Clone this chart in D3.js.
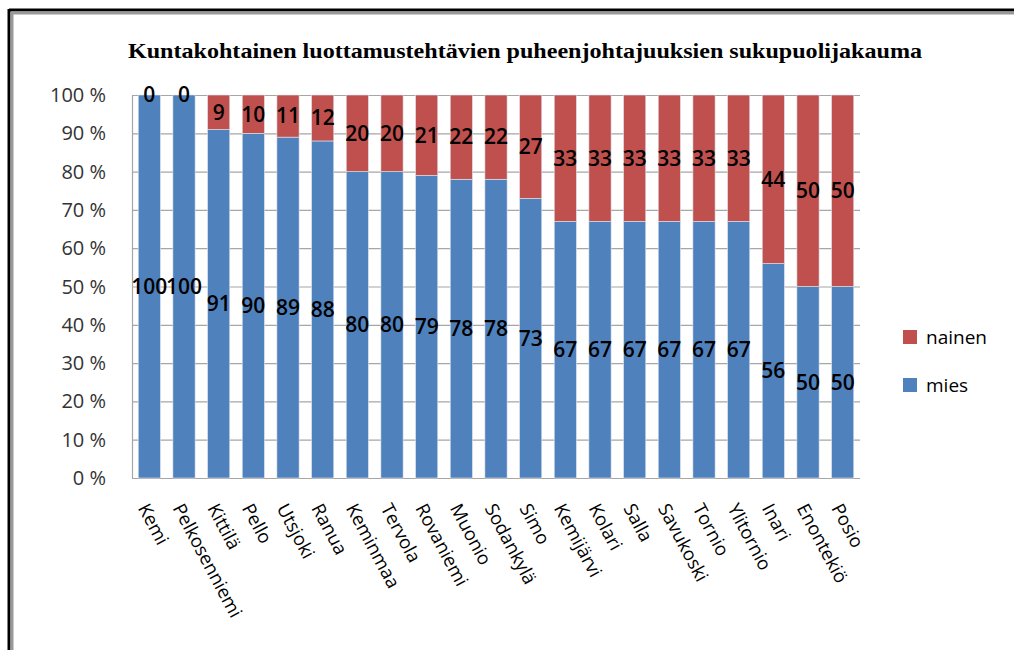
<!DOCTYPE html>
<meta charset="utf-8">
<style>
html, body { margin: 0; overflow: hidden; background: #fff; }
text { font-family: "Open Sans", sans-serif; }
</style>
<body>
<script src="https://d3js.org/d3.v7.min.js"></script>
<script>

var width = 1014,
  height = 650;

var kunnat = ["Kemi", "Pelkosenniemi", "Kittilä", "Pello", "Utsjoki", "Ranua", "Keminmaa",
  "Tervola", "Rovaniemi", "Muonio", "Sodankylä", "Simo", "Kemijärvi", "Kolari", "Salla",
  "Savukoski", "Tornio", "Ylitornio", "Inari", "Enontekiö", "Posio"];
var mies = [100, 100, 91, 90, 89, 88, 80, 80, 79, 78, 78, 73, 67, 67, 67, 67, 67, 67, 56, 50, 50];
var nainen = [0, 0, 9, 10, 11, 12, 20, 20, 21, 22, 22, 27, 33, 33, 33, 33, 33, 33, 44, 50, 50];
var yTicks = [0, 10, 20, 30, 40, 50, 60, 70, 80, 90, 100];
var sarjat = ["mies", "nainen"];
var colors = { mies: "#4F81BD", nainen: "#C0504D" };

var rows = kunnat.map(function(k, i) {
  return { kunta: k, mies: mies[i], nainen: nainen[i] };
});
var stacked = d3.stack().keys(sarjat)(rows);

var svg = d3.select("body").append("svg")
  .attr("width", width)
  .attr("height", height);

// frame
svg.append("line").attr("x1", 9).attr("x2", 9).attr("y1", 9).attr("y2", height)
  .attr("stroke", "#000").attr("stroke-width", 3);
svg.append("line").attr("x1", 9).attr("x2", width).attr("y1", 10).attr("y2", 10)
  .attr("stroke", "#000").attr("stroke-width", 3);
svg.append("line").attr("x1", 12).attr("x2", 12).attr("y1", 12).attr("y2", height)
  .attr("stroke", "#999").attr("stroke-width", 3);
svg.append("line").attr("x1", 11).attr("x2", width).attr("y1", 13).attr("y2", 13)
  .attr("stroke", "#999").attr("stroke-width", 3);

var plotLeft = 132, plotRight = 860, plotTop = 95, plotBottom = 478;

var x = d3.scaleBand().domain(kunnat).range([plotLeft, plotRight]).paddingInner(0.36).paddingOuter(0.18);
var y = d3.scaleLinear().domain([0, 100]).range([plotBottom, plotTop]);

svg.append("text")
  .attr("x", 525).attr("y", 58)
  .attr("text-anchor", "middle")
  .attr("textLength", 794)
  .attr("lengthAdjust", "spacingAndGlyphs")
  .style("font-family", "'Liberation Serif', serif")
  .style("font-weight", "bold")
  .style("font-size", "22px")
  .text("Kuntakohtainen luottamustehtävien puheenjohtajuuksien sukupuolijakauma");

// grid
svg.append("g").selectAll("line")
  .data(yTicks)
  .enter().append("line")
  .attr("x1", plotLeft).attr("x2", plotRight)
  .attr("y1", function(d) { return y(d) + 0.5; })
  .attr("y2", function(d) { return y(d) + 0.5; })
  .attr("stroke", "#a6a6a6").attr("stroke-width", 1.2);

svg.append("line")
  .attr("x1", plotLeft + 0.5).attr("x2", plotLeft + 0.5)
  .attr("y1", plotTop).attr("y2", plotBottom + 0.5)
  .attr("stroke", "#a6a6a6").attr("stroke-width", 1.2);

svg.append("g").selectAll("text")
  .data(yTicks)
  .enter().append("text")
  .attr("x", 106)
  .attr("y", function(d) { return y(d); })
  .attr("dy", "0.35em")
  .attr("text-anchor", "end")
  .style("font-size", "20px")
  .attr("fill", "#333")
  .text(function(d) { return d + " %"; });

// bars
var layer = svg.append("g").selectAll("g")
  .data(stacked)
  .enter().append("g")
  .attr("fill", function(d) { return colors[d.key]; });

layer.selectAll("rect")
  .data(function(d) { return d; })
  .enter().append("rect")
  .attr("x", function(d) { return x(d.data.kunta); })
  .attr("width", x.bandwidth())
  .attr("y", function(d) { return y(d[1]); })
  .attr("height", function(d) { return y(d[0]) - y(d[1]); })
  .attr("stroke", "#dfe6f0")
  .attr("stroke-width", 0.6);

// value labels
layer.selectAll("text")
  .data(function(d) { return d; })
  .enter().append("text")
  .attr("x", function(d) { return x(d.data.kunta) + x.bandwidth() / 2; })
  .attr("y", function(d) { return y((d[0] + d[1]) / 2); })
  .attr("dy", "0.35em")
  .attr("text-anchor", "middle")
  .attr("fill", "#000")
  .style("font-size", "21px")
  .style("font-weight", "600")
  .text(function(d) { return d[1] - d[0]; });

// category labels
svg.append("g").selectAll("text")
  .data(kunnat)
  .enter().append("text")
  .attr("transform", function(d) {
    return "translate(" + (x(d) + x.bandwidth() / 2 - 6) + "," + 505 + ") rotate(62)";
  })
  .attr("dy", "0.35em")
  .style("font-size", "18.5px")
  .attr("fill", "#000")
  .text(function(d) { return d; });

// legend
var legend = svg.append("g").selectAll("g")
  .data(["nainen", "mies"])
  .enter().append("g")
  .attr("transform", function(d, i) { return "translate(903," + (330 + i * 48) + ")"; });

legend.append("rect")
  .attr("width", 14).attr("height", 14)
  .attr("fill", function(d) { return colors[d]; });

legend.append("text")
  .attr("x", 23).attr("y", 7)
  .attr("dy", "0.35em")
  .style("font-size", "19px")
  .attr("fill", "#000")
  .text(function(d) { return d; });

</script>
